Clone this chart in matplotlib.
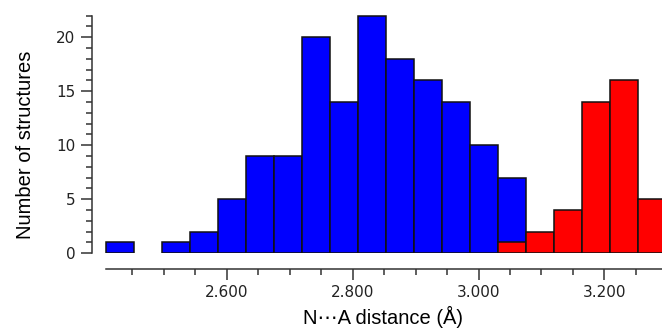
import numpy as np
import matplotlib
matplotlib.use("Agg")
import matplotlib.pyplot as plt
from matplotlib.ticker import FixedLocator, FormatStrFormatter

# histogram bins (Å)
bin_start = 2.408
bin_width = 0.0445

# counts per bin, blue set starts at bin 0, red set starts at bin 14
blue_counts = [1, 0, 1, 2, 5, 9, 9, 20, 14, 22, 18, 16, 14, 10, 7]
red_counts = [1, 2, 4, 14, 16, 5]
red_first_bin = 14

x_major = [2.6, 2.8, 3.0, 3.2]
x_minor = [2.45, 2.50, 2.55, 2.65, 2.70, 2.75, 2.85, 2.90, 2.95,
           3.05, 3.10, 3.15, 3.25]

W, H = 662, 331
fig = plt.figure(figsize=(W / 100, H / 100), dpi=100)
ax = fig.add_axes([92 / W, (H - 253.3) / H, (W - 92) / W, (253.3 - 15) / H])

blue = np.array(blue_counts, dtype=float)
red = np.array(red_counts, dtype=float)
blue_left = bin_start + bin_width * np.arange(len(blue))
red_left = bin_start + bin_width * (red_first_bin + np.arange(len(red)))

# empty bins get no bar at all
ax.bar(blue_left[blue > 0], blue[blue > 0], width=bin_width, align="edge",
       color="#0000ff", edgecolor="#111111", linewidth=1.1, zorder=2)
ax.bar(red_left[red > 0], red[red > 0], width=bin_width, align="edge",
       color="#ff0000", edgecolor="#111111", linewidth=1.1, zorder=3)

ax.set_xlim(2.386, 3.2915)
ax.set_ylim(0, 22.05)

for s in ("top", "right"):
    ax.spines[s].set_visible(False)
ax.spines["bottom"].set_position(("outward", 11))
ax.spines["bottom"].set_bounds(bin_start, 3.2915)
ax.spines["left"].set_bounds(0, 22)
for s in ("left", "bottom"):
    ax.spines[s].set_linewidth(1.1)
    ax.spines[s].set_color("#333333")

ax.xaxis.set_major_locator(FixedLocator(x_major))
ax.xaxis.set_minor_locator(FixedLocator(x_minor))
ax.xaxis.set_major_formatter(FormatStrFormatter("%.3f"))
ax.yaxis.set_major_locator(FixedLocator([0, 5, 10, 15, 20]))
ax.yaxis.set_minor_locator(FixedLocator(range(0, 23)))

ax.tick_params(which="major", direction="out", length=8, width=1.1,
               color="#333333", labelsize=11, labelcolor="#222222", pad=4)
ax.tick_params(which="minor", direction="out", length=4, width=1.1,
               color="#333333")

lab_font = ["Liberation Sans", "DejaVu Sans"]
ax.set_xlabel("N\u22efA distance (\u00c5)", fontsize=14.5, family=lab_font)
ax.set_ylabel("Number of structures", fontsize=14.5, family=lab_font)
ax.xaxis.set_label_coords(0.51, -0.22)
ax.yaxis.set_label_coords(-0.10, 0.455)

fig.savefig("out.png", dpi=100)
